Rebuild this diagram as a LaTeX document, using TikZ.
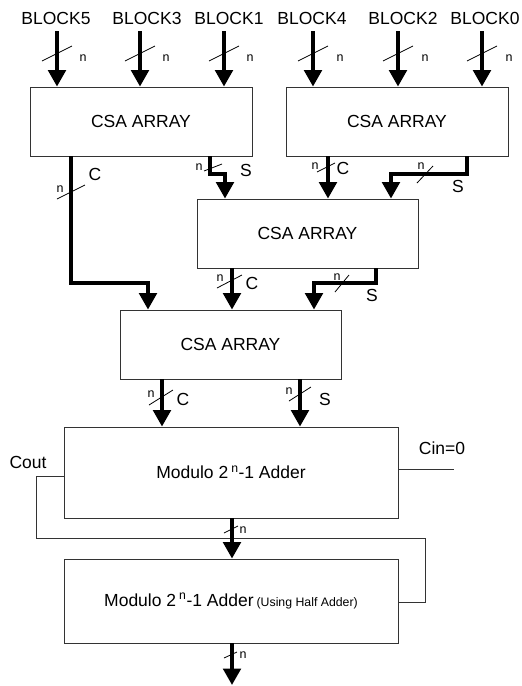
\documentclass[tikz,border=0pt]{standalone}
\usepackage{fontspec}
\setmainfont{Liberation Sans}
\usetikzlibrary{arrows.meta}
\begin{document}
\begin{tikzpicture}[x=1pt,y=-1pt,
  box/.style={draw=black!80, line width=0.9pt, inner sep=0pt, font=\fontsize{17.5}{20}\selectfont},
  bus/.style={line width=3.8pt, -{Triangle[width=17.5pt,length=16.5pt]}},
  slash/.style={line width=0.8pt},
  nlab/.style={font=\fontsize{12.5}{14}\selectfont, inner sep=0pt},
  lab/.style={font=\fontsize{17.5}{20}\selectfont, inner sep=0pt},
  thin/.style={draw=black!80, line width=0.9pt}]
\useasboundingbox (0,0) rectangle (522,686);

% boxes
\node[box, minimum width=222pt, minimum height=69pt] (csa1) at (141,121.5) {CSA ARRAY};
\node[box, minimum width=222pt, minimum height=69pt] (csa2) at (397,121.5) {CSA ARRAY};
\node[box, minimum width=221pt, minimum height=69pt] (csa3) at (307.5,233.5) {CSA ARRAY};
\node[box, minimum width=221pt, minimum height=69pt] (csa4) at (230.5,344.5) {CSA ARRAY};
\node[box, minimum width=334pt, minimum height=91pt] (add1) at (231,472.5) {Modulo 2\hspace{3pt}\textsuperscript{n}-1 Adder};
\node[box, minimum width=334pt, minimum height=84pt] (add2) at (231,601) {Modulo 2\hspace{3pt}\textsuperscript{n}-1 Adder\hspace{3pt}{\fontsize{12.3}{14}\selectfont(Using Half Adder)}\hspace{12pt}};

% input labels
\node[lab] (b5) at (56,18) {BLOCK5};
\node[lab] (b3) at (147,18) {BLOCK3};
\node[lab] (b1) at (229,18) {BLOCK1};
\node[lab] (b4) at (312,18) {BLOCK4};
\node[lab] (b2) at (403,18) {BLOCK2};
\node[lab] (b0) at (485,18) {BLOCK0};

% input buses
\foreach \x in {57,140,224} {
  \coordinate (top) at (\x,31);
  \draw[bus] (top) -- (top |- csa1.north);
  \draw[slash] (\x-15,61) -- (\x+15,46);
  \node[nlab] at (\x+26,58.5) {n};
}
\foreach \x in {313,398,482} {
  \coordinate (top) at (\x,31);
  \draw[bus] (top) -- (top |- csa2.north);
  \draw[slash] (\x-15,61) -- (\x+15,46);
  \node[nlab] at (\x+27,58.5) {n};
}

% csa1 C -> csa4
\coordinate (p1) at (71,283);
\coordinate (p2) at (148,283);
\draw[bus] (p1 |- csa1.south) -- (p1) -- (p2) -- (p2 |- csa4.north);
\draw[slash] (57,199) -- (85,185);
\node[nlab] at (60,189) {n};
\node[lab] at (95,174) {C};

% csa1 S -> csa3
\coordinate (p3) at (210,174);
\coordinate (p4) at (225,174);
\draw[bus] (p3 |- csa1.south) -- (p3) -- (p4) -- (p4 |- csa3.north);
\draw[slash] (204,171) -- (222,164);
\node[nlab] at (199,167) {n};
\node[lab] at (246,170) {S};

% csa2 C -> csa3
\coordinate (p5) at (328,170);
\draw[bus] (p5 |- csa2.south) -- (p5 |- csa3.north);
\draw[slash] (317,172) -- (335,163);
\node[nlab] at (315,166) {n};
\node[lab] at (343,168) {C};

% csa2 S -> csa3
\coordinate (p6) at (467,174);
\coordinate (p7) at (391,174);
\draw[bus] (p6 |- csa2.south) -- (p6) -- (p7) -- (p7 |- csa3.north);
\draw[slash] (417,183) -- (433,166);
\node[nlab] at (421,166) {n};
\node[lab] at (458,186) {S};

% csa3 C -> csa4
\coordinate (p8) at (232,290);
\draw[bus] (p8 |- csa3.south) -- (p8 |- csa4.north);
\draw[slash] (217,288) -- (242,275);
\node[nlab] at (220,278) {n};
\node[lab] at (252,283) {C};

% csa3 S -> csa4
\coordinate (p9) at (376,283);
\coordinate (p10) at (314,283);
\draw[bus] (p9 |- csa3.south) -- (p9) -- (p10) -- (p10 |- csa4.north);
\draw[slash] (335,292) -- (349,275);
\node[nlab] at (337,277) {n};
\node[lab] at (372,295) {S};

% csa4 C, S -> add1
\coordinate (p11) at (162,400);
\draw[bus] (p11 |- csa4.south) -- (p11 |- add1.north);
\draw[slash] (149,405) -- (173,390);
\node[nlab] at (151,394) {n};
\node[lab] at (183,399) {C};
\coordinate (p12) at (300,400);
\draw[bus] (p12 |- csa4.south) -- (p12 |- add1.north);
\draw[slash] (289,401) -- (311,387);
\node[nlab] at (289,391) {n};
\node[lab] at (325,399) {S};

% Cout loop and Cin
\coordinate (q1) at (36,476);
\coordinate (q2) at (36,538);
\coordinate (q3) at (425,538);
\coordinate (q4) at (425,602);
\draw[thin] (q1 -| add1.west) -- (q1) -- (q2) -- (q3) -- (q4) -- (q4 -| add2.east);
\node[lab] (cout) at (28,462) {Cout};
\coordinate (q5) at (454,469);
\draw[thin] (q5 -| add1.east) -- (q5);
\node[lab] (cin) at (442,448) {Cin=0};

% add1 -> add2
\coordinate (p13) at (232,530);
\draw[bus] (p13 |- add1.south) -- (p13 |- add2.north);
\draw[slash] (224,533) -- (238,526);
\node[nlab] at (243,530) {n};

% add2 output
\coordinate (out) at (232,685);
\draw[bus] (out |- add2.south) -- (out);
\draw[slash] (224,658) -- (237,652);
\node[nlab] at (243,655) {n};
\end{tikzpicture}
\end{document}
